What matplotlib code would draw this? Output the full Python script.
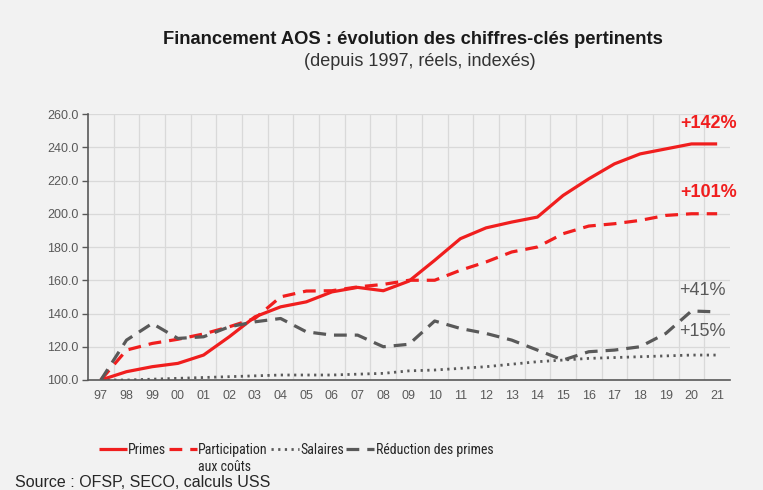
import matplotlib
matplotlib.use("Agg")
import matplotlib.pyplot as plt
from matplotlib import font_manager

plt.rcParams['font.family'] = ['Liberation Sans', 'DejaVu Sans']

years = ['97', '98', '99', '00', '01', '02', '03', '04', '05', '06', '07', '08',
         '09', '10', '11', '12', '13', '14', '15', '16', '17', '18', '19', '20', '21']

primes = [100, 105, 108, 110, 115, 126, 138, 144, 147, 153, 155.7, 153.7,
          159.5, 172, 185, 191.5, 195, 198, 211, 221, 230, 236, 239, 242, 242]
participation = [100, 118, 122, 124.5, 127.7, 132, 137, 150, 153.5, 153.7, 156, 157.5,
                 160, 160, 166, 171, 177, 180, 188, 192.6, 194, 196, 199, 200, 200]
salaires = [100, 100, 100.5, 101, 101.5, 102, 102.5, 103, 103, 103, 103.5, 104,
            105.5, 106, 107, 108, 109.5, 111, 112, 113, 113.5, 114, 114.5, 115, 115]
reduction = [100, 124, 134, 125, 126, 132, 135, 137, 129, 127, 127, 120,
             121.5, 135.5, 131, 128, 124, 118, 112, 117, 118, 120, 128, 141.5, 141]

end_labels = ['+142%', '+101%', '+41%', '+15%']

red = '#f01e1e'
grey = '#595959'
bg = '#f2f2f2'

# condensed font for the legend if there is one, else a smaller regular one
names = {f.name for f in font_manager.fontManager.ttflist}
narrow = None
for n in ['Liberation Sans Narrow', 'DejaVu Sans Condensed', 'Roboto Condensed', 'Open Sans Condensed']:
    if n in names:
        narrow = n
        break
if narrow:
    leg_font = {'family': [narrow, 'DejaVu Sans'], 'size': 10}
else:
    leg_font = {'family': ['Liberation Sans', 'DejaVu Sans'], 'size': 9}

fig = plt.figure(figsize=(7.63, 4.9), dpi=100, facecolor=bg)
ax = fig.add_axes([88 / 763, 1 - 380 / 490, (730 - 88) / 763, (380 - 114) / 490])
ax.set_facecolor(bg)

x = list(range(len(years)))
l1, = ax.plot(x, primes, color=red, lw=2.3, solid_capstyle='butt')
l2, = ax.plot(x, participation, color=red, lw=2.3, dashes=(4, 2.5))
l3, = ax.plot(x, salaires, color=grey, lw=2.0, dashes=(0.8, 1.6))
l4, = ax.plot(x, reduction, color=grey, lw=2.3, dashes=(4, 2.5))

ax.set_xlim(-0.5, 24.5)
ax.set_ylim(100, 260)
ax.set_yticks(range(100, 261, 20))
ax.set_yticklabels(['%.1f' % v for v in range(100, 261, 20)])
ax.set_xticks(x)
ax.set_xticklabels(years)
for v in range(120, 261, 20):
    ax.axhline(v, color='#d9d9d9', lw=0.9, zorder=0)
for v in [i + 0.5 for i in range(24)]:
    ax.axvline(v, color='#d9d9d9', lw=0.9, zorder=0)

ax.tick_params(axis='y', colors=grey, labelsize=9, length=4, width=1, direction='out', pad=3)
ax.tick_params(axis='x', colors=grey, labelsize=9, length=0, pad=7)
for side in ['top', 'right']:
    ax.spines[side].set_visible(False)
ax.spines['left'].set_color(grey)
ax.spines['bottom'].set_color(grey)
ax.spines['left'].set_linewidth(1.2)
ax.spines['bottom'].set_linewidth(1.2)

# end labels
ax.text(23.66, 254, end_labels[0], color=red, fontsize=13, fontweight='bold', ha='center', va='center')
ax.text(23.66, 213, end_labels[1], color=red, fontsize=13, fontweight='bold', ha='center', va='center')
ax.text(23.42, 154, end_labels[2], color=grey, fontsize=13, ha='center', va='center')
ax.text(23.42, 129, end_labels[3], color=grey, fontsize=13, ha='center', va='center')

fig.text(413 / 763, 1 - 40 / 490, 'Financement AOS : évolution des chiffres-clés pertinents',
         ha='center', va='center', fontsize=13.2, fontweight='bold', color='#1a1a1a')
fig.text(420 / 763, 1 - 62 / 490, '(depuis 1997, réels, indexés)',
         ha='center', va='center', fontsize=13, color='#333333')

leg = fig.legend([l1, l2, l3, l4], ['Primes', 'Participation', 'Salaires', 'Réduction des primes'],
                 loc='center left', bbox_to_anchor=(88 / 763, 1 - 450 / 490), ncol=4, frameon=False,
                 prop=leg_font, handlelength=2.0, handletextpad=0.1, columnspacing=0.2,
                 borderpad=0.3)
for t in leg.get_texts():
    t.set_color('#262626')

fig.canvas.draw()
bb = leg.get_texts()[1].get_window_extent()
fig.text(bb.x0 / fig.bbox.width, 1 - 467 / 490, 'aux coûts', ha='left', va='center',
         fontproperties=font_manager.FontProperties(**leg_font), color='#262626')

fig.text(15 / 763, 1 - 482 / 490, 'Source : OFSP, SECO, calculs USS', ha='left', va='center',
         fontsize=11.5, color='#262626')

fig.savefig('out.png', dpi=100, facecolor=bg)
